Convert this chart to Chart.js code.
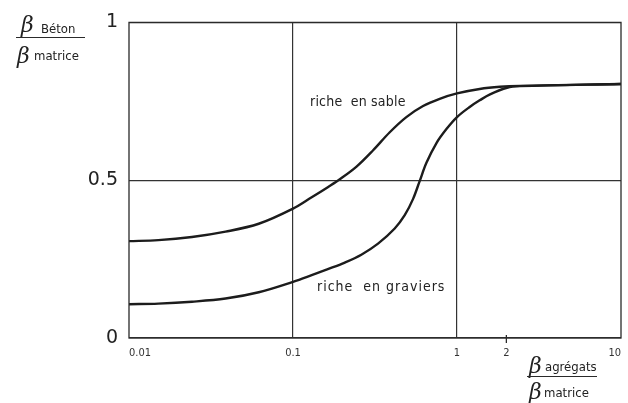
<!DOCTYPE html>
<html>
<head>
<meta charset="utf-8">
<script src="https://cdn.jsdelivr.net/npm/chart.js@4/dist/chart.umd.min.js"></script>
<style>
  html, body { margin: 0; padding: 0; background: #fff; }
  #wrap { width: 628px; height: 403px; }
</style>
</head>
<body>
<div id="wrap"><canvas id="chart" width="628" height="403"></canvas></div>
<script>
// Data (x = beta agregats / beta matrice, log scale)
const sableX = [0.01, 0.0151, 0.0242, 0.0388, 0.0618, 0.1, 0.13, 0.163, 0.193, 0.244, 0.307, 0.389, 0.491, 0.621, 0.784, 1, 1.375, 1.83, 2.42, 10];
const sableY = [0.307, 0.310, 0.32, 0.337, 0.362, 0.41, 0.446, 0.478, 0.503, 0.543, 0.594, 0.652, 0.70, 0.735, 0.758, 0.775, 0.789, 0.796, 0.799, 0.805];
const gravierX = [0.01, 0.0151, 0.0242, 0.0388, 0.0618, 0.1, 0.13, 0.163, 0.207, 0.261, 0.33, 0.417, 0.48, 0.539, 0.592, 0.651, 0.748, 0.862, 1, 1.195, 1.375, 1.59, 2.02, 2.42, 10];
const gravierY = [0.107, 0.109, 0.115, 0.125, 0.145, 0.178, 0.199, 0.218, 0.239, 0.264, 0.299, 0.347, 0.389, 0.44, 0.497, 0.555, 0.617, 0.662, 0.70, 0.732, 0.753, 0.772, 0.793, 0.798, 0.805];
const xTicks = [0.01, 0.1, 1, 2, 10];
const xGridAt = [0.1, 1];
const curveLabels = [
  { text: 'riche  en sable', x: 0.127, y: 0.747, spacing: 0.2 },
  { text: 'riche  en graviers', x: 0.14, y: 0.161, spacing: 1 }
];

const ink = '#1c1c1c';
const labelFont = '"DejaVu Sans Condensed", "DejaVu Sans", sans-serif';

function toPoints(xs, ys) {
  return xs.map((x, i) => ({ x: x, y: ys[i] }));
}

// box, small tick at 2, curve names and the two fraction titles
const decor = {
  id: 'decor',
  afterDraw(chart) {
    const ctx = chart.ctx;
    const a = chart.chartArea;
    const xs = chart.scales.x;
    const ys = chart.scales.y;
    ctx.save();
    ctx.strokeStyle = '#2a2a2a';
    ctx.lineWidth = 1.3;
    ctx.strokeRect(a.left, a.top, a.right - a.left, a.bottom - a.top);

    // little tick for 2
    const x2 = xs.getPixelForValue(2);
    ctx.beginPath();
    ctx.moveTo(x2, a.bottom - 3);
    ctx.lineTo(x2, a.bottom + 5);
    ctx.stroke();

    ctx.fillStyle = '#222';
    ctx.textBaseline = 'middle';
    ctx.textAlign = 'left';
    ctx.font = '14px ' + labelFont;
    curveLabels.forEach(l => {
      ctx.letterSpacing = l.spacing + 'px';
      ctx.fillText(l.text, xs.getPixelForValue(l.x), ys.getPixelForValue(l.y));
    });
    ctx.letterSpacing = '0px';

    // y title
    ctx.textBaseline = 'alphabetic';
    ctx.font = 'italic 22px "DejaVu Serif", serif';
    ctx.fillText('β', 21, 32);
    ctx.fillText('β', 17, 63);
    ctx.font = '13px ' + labelFont;
    ctx.fillText('Béton', 41, 33);
    ctx.fillText('matrice', 34, 60);
    ctx.beginPath();
    ctx.lineWidth = 1.2;
    ctx.moveTo(16, 37.5);
    ctx.lineTo(85, 37.5);
    ctx.stroke();

    // x title
    ctx.font = 'italic 22px "DejaVu Serif", serif';
    ctx.fillText('β', 529, 373);
    ctx.fillText('β', 529, 399);
    ctx.font = '13px ' + labelFont;
    ctx.fillText('agrégats', 545, 371);
    ctx.fillText('matrice', 544, 397);
    ctx.beginPath();
    ctx.moveTo(527, 376.5);
    ctx.lineTo(597, 376.5);
    ctx.stroke();
    ctx.restore();
  }
};

const lineStyle = {
  borderColor: ink,
  borderWidth: 2.4,
  pointRadius: 0,
  fill: false,
  tension: 0.35
};

new Chart(document.getElementById('chart'), {
  type: 'line',
  data: {
    datasets: [
      Object.assign({ label: 'riche en sable', data: toPoints(sableX, sableY) }, lineStyle),
      Object.assign({ label: 'riche en graviers', data: toPoints(gravierX, gravierY) }, lineStyle)
    ]
  },
  options: {
    responsive: false,
    animation: false,
    layout: { padding: { top: 22, right: 7, left: 0, bottom: 0 } },
    plugins: {
      legend: { display: false },
      tooltip: { enabled: false }
    },
    scales: {
      x: {
        type: 'logarithmic',
        min: 0.01,
        max: 10,
        afterBuildTicks: scale => {
          scale.ticks = xTicks.map(v => ({ value: v }));
        },
        afterFit: scale => {
          scale.height = 65;
          scale.paddingLeft = 0;
          scale.paddingRight = 0;
        },
        ticks: {
          autoSkip: false,
          maxRotation: 0,
          align: 'inner',
          padding: 9,
          color: '#333',
          font: { family: labelFont, size: 11 },
          callback: v => String(v)
        },
        grid: {
          drawTicks: false,
          lineWidth: 1.2,
          color: c => (c.tick && xGridAt.includes(c.tick.value)) ? '#333' : 'rgba(0,0,0,0)'
        },
        border: { display: false }
      },
      y: {
        min: 0,
        max: 1,
        afterFit: scale => { scale.width = 129; },
        ticks: {
          stepSize: 0.5,
          padding: 11,
          color: '#222',
          font: { family: '"DejaVu Sans", sans-serif', size: 19 },
          callback: v => String(v)
        },
        grid: {
          drawTicks: false,
          lineWidth: 1.2,
          color: '#333'
        },
        border: { display: false }
      }
    }
  },
  plugins: [decor]
});
</script>
</body>
</html>
